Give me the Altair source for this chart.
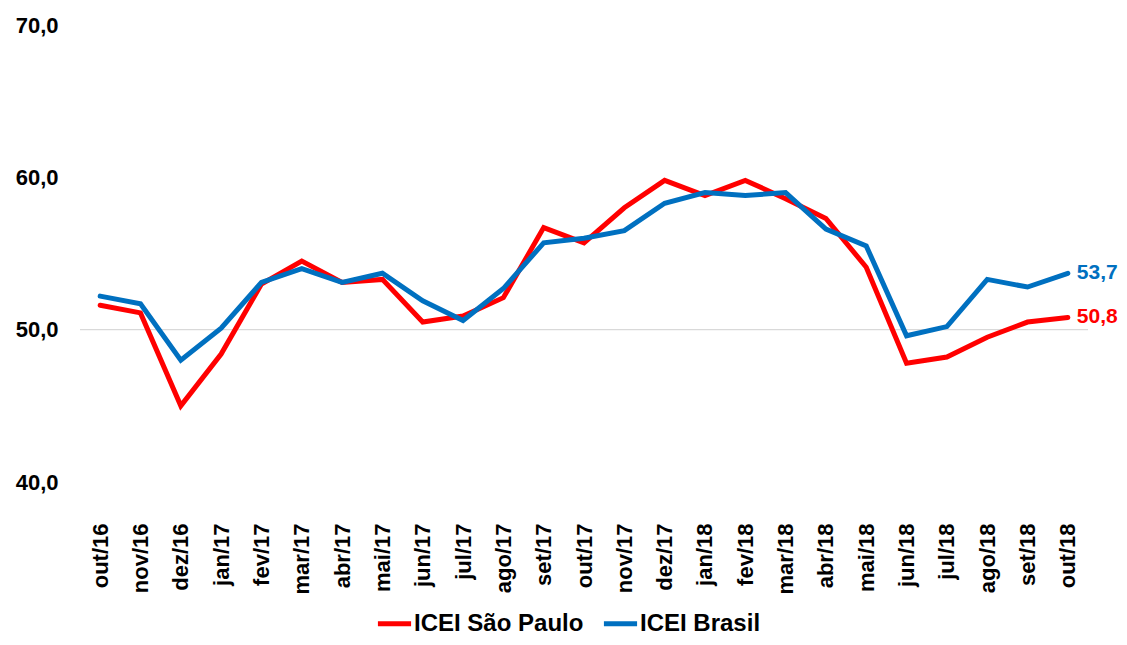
import altair as alt
import pandas as pd

months = ["out/16", "nov/16", "dez/16", "jan/17", "fev/17", "mar/17", "abr/17", "mai/17",
          "jun/17", "jul/17", "ago/17", "set/17", "out/17", "nov/17", "dez/17", "jan/18",
          "fev/18", "mar/18", "abr/18", "mai/18", "jun/18", "jul/18", "ago/18", "set/18", "out/18"]
icei_sp = [51.6, 51.1, 45.0, 48.4, 53.0, 54.5, 53.1, 53.3, 50.5, 50.9, 52.1, 56.7, 55.7,
           58.0, 59.8, 58.8, 59.8, 58.6, 57.3, 54.1, 47.8, 48.2, 49.5, 50.5, 50.8]
icei_br = [52.2, 51.7, 48.0, 50.1, 53.1, 54.0, 53.1, 53.7, 51.9, 50.6, 52.7, 55.7, 56.0,
           56.5, 58.3, 59.0, 58.8, 59.0, 56.6, 55.5, 49.6, 50.2, 53.3, 52.8, 53.7]
series = ["ICEI São Paulo", "ICEI Brasil"]
colors = ["#ff0000", "#0070c0"]

df = pd.DataFrame({
    "mes": months * 2,
    "valor": icei_sp + icei_br,
    "serie": [series[0]] * len(months) + [series[1]] * len(months),
})
df["rotulo"] = df["valor"].map(lambda v: f"{v:.1f}".replace(".", ","))
last = df[df["mes"] == months[-1]]

FONT = "Liberation Sans"

x = alt.X("mes:N", sort=months, title=None,
          axis=alt.Axis(labelAngle=270, labelFontSize=22, labelFontWeight="bold",
                        labelColor="#000000", labelFont=FONT, ticks=False, domain=False,
                        labelPadding=41, labelAlign="right", labelBaseline="middle",
                        labelOverlap=False))
y = alt.Y("valor:Q", title=None, scale=alt.Scale(domain=[40, 70], nice=False, zero=False),
          axis=alt.Axis(values=[40, 50, 60, 70], grid=False, ticks=False, domain=False,
                        labelFontSize=22, labelFontWeight="bold", labelColor="#000000",
                        labelFont=FONT, labelPadding=22,
                        labelExpr="replace(format(datum.value, '.1f'), '.', ',')"))
color = alt.Color("serie:N", sort=series,
                  scale=alt.Scale(domain=series, range=colors),
                  legend=alt.Legend(title=None, orient="none", legendX=295, legendY=579,
                                    direction="horizontal", symbolType="stroke",
                                    symbolStrokeWidth=5, symbolSize=1100,
                                    labelFontSize=24, labelFontWeight="bold",
                                    labelFont=FONT, labelColor="#000000", labelLimit=400,
                                    columnPadding=9, labelOffset=0))

rule = alt.Chart(pd.DataFrame({"y": [50]})).mark_rule(color="#d9d9d9", strokeWidth=1.2).encode(
    y=alt.Y("y:Q", scale=alt.Scale(domain=[40, 70])))

lines = alt.Chart(df).mark_line(strokeWidth=5, strokeCap="round", strokeJoin="miter").encode(
    x=x, y=y, color=color, detail="serie:N")

labels = alt.Chart(last).mark_text(align="left", dx=9, fontSize=21, fontWeight="bold",
                                   font=FONT, baseline="middle").encode(
    x=alt.X("mes:N", sort=months), y=alt.Y("valor:Q"),
    text="rotulo:N",
    color=alt.Color("serie:N", sort=series, scale=alt.Scale(domain=series, range=colors), legend=None))

chart = alt.layer(rule, lines, labels).properties(
    width=1008, height=457,
    background="#ffffff",
    autosize=alt.AutoSizeParams(type="none"),
    padding={"left": 72, "top": 17, "right": 31, "bottom": 155},
).configure_view(strokeWidth=0)

chart.save("out.html", embed_options={"renderer": "svg", "actions": False})
